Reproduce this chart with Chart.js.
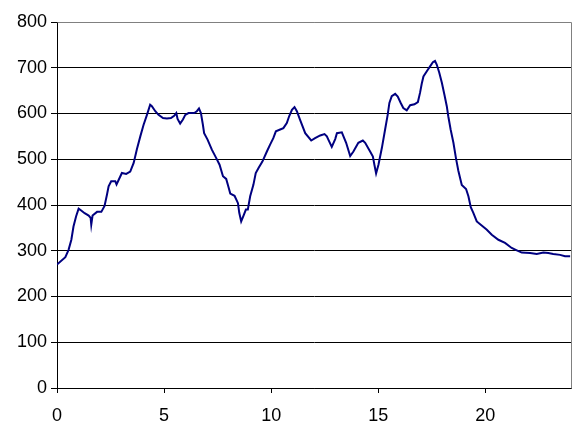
<!DOCTYPE html>
<html>
<head>
<meta charset="utf-8">
<script src="https://cdn.jsdelivr.net/npm/chart.js@4/dist/chart.umd.min.js"></script>
<style>
  html, body { margin: 0; padding: 0; background: #fff; }
  #wrap { width: 584px; height: 434px; }
</style>
</head>
<body>
<div id="wrap"><canvas id="chart"></canvas></div>
<script>
// hours (x) and values (y)
const hours = [
  0, 0.39, 0.54, 0.67, 0.77, 0.89, 1.01, 1.13, 1.29, 1.48, 1.57, 1.6, 1.66, 1.87, 2.07, 2.22, 2.33, 2.41, 2.53, 2.72,
  2.78, 3.03, 3.23, 3.42, 3.58, 3.73, 3.89, 4.04, 4.2, 4.35, 4.43, 4.59, 4.74, 4.95, 5.13, 5.32, 5.47, 5.57, 5.63, 5.75,
  5.88, 5.99, 6.14, 6.41, 6.53, 6.63, 6.72, 6.81, 6.87, 7.03, 7.23, 7.43, 7.59, 7.75, 7.9, 8.01, 8.09, 8.29, 8.45, 8.51,
  8.6, 8.71, 8.82, 8.91, 9.02, 9.17, 9.28, 9.41, 9.59, 9.8, 9.95, 10.1, 10.22, 10.42, 10.57, 10.73, 10.84, 10.97, 11.09, 11.2,
  11.35, 11.59, 11.87, 12.05, 12.29, 12.49, 12.6, 12.67, 12.83, 12.99, 13.07, 13.3, 13.5, 13.69, 13.84, 14.07, 14.28, 14.39, 14.62, 14.75,
  14.82, 14.9, 15.01, 15.17, 15.32, 15.44, 15.52, 15.63, 15.79, 15.91, 16.05, 16.17, 16.33, 16.49, 16.69, 16.85, 16.95, 17.03, 17.11, 17.29,
  17.42, 17.55, 17.65, 17.73, 17.85, 17.97, 18.09, 18.2, 18.27, 18.38, 18.51, 18.63, 18.74, 18.9, 19.1, 19.21, 19.32, 19.44, 19.6, 19.83,
  20.07, 20.3, 20.61, 20.92, 21.23, 21.47, 21.7, 22.09, 22.4, 22.71, 22.94, 23.17, 23.49, 23.72, 23.96
];
const values = [
  270, 286, 302, 324, 353, 375, 392, 388, 382, 377, 372, 357, 377, 385, 385, 398, 422, 441, 452, 452,
  445, 470, 468, 473, 492, 522, 550, 575, 597, 619, 616, 605, 597, 590, 589, 590, 595, 601, 588, 578,
  587, 597, 601, 601, 605, 611, 601, 576, 557, 543, 521, 503, 488, 463, 457, 439, 425, 420, 404, 383,
  364, 377, 390, 390, 419, 444, 470, 481, 495, 517, 532, 546, 561, 565, 568, 579, 594, 608, 614, 605,
  586, 557, 541, 546, 552, 555, 550, 543, 527, 544, 557, 559, 536, 507, 517, 536, 541, 536, 517, 506,
  488, 469, 488, 525, 565, 597, 623, 638, 643, 637, 623, 612, 607, 618, 620, 625, 645, 665, 681, 694,
  703, 712, 715, 707, 689, 667, 641, 616, 594, 565, 536, 502, 475, 444, 435, 419, 395, 383, 364, 355,
  346, 335, 324, 317, 306, 301, 296, 295, 293, 296, 295, 293, 291, 288, 288
];
const xTicks = [0, 5, 10, 15, 20];
const yTicks = [0, 100, 200, 300, 400, 500, 600, 700, 800];

const points = hours.map((h, i) => ({ x: h, y: values[i] }));

const plotBorder = {
  id: 'plotBorder',
  afterDraw(chart) {
    const { ctx, chartArea: a } = chart;
    ctx.save();
    ctx.strokeStyle = '#808080';
    ctx.lineWidth = 1;
    ctx.beginPath();
    ctx.moveTo(Math.round(a.left) + 0.5, Math.round(a.top) + 0.5);
    ctx.lineTo(Math.round(a.right) + 0.5, Math.round(a.top) + 0.5);
    ctx.lineTo(Math.round(a.right) + 0.5, Math.round(a.bottom) + 0.5);
    ctx.stroke();
    ctx.restore();
  }
};

new Chart(document.getElementById('chart'), {
  type: 'line',
  data: {
    datasets: [{
      data: points,
      borderColor: '#000080',
      borderWidth: 2,
      pointRadius: 0,
      tension: 0,
      fill: false
    }]
  },
  options: {
    responsive: true,
    maintainAspectRatio: false,
    animation: false,
    layout: { padding: { top: 22, right: 13, left: 0, bottom: 0 } },
    plugins: {
      legend: { display: false },
      tooltip: { enabled: false }
    },
    scales: {
      x: {
        type: 'linear',
        min: 0,
        max: 24,
        afterFit: s => { s.height = 46; },
        afterBuildTicks: s => { s.ticks = xTicks.map(v => ({ value: v })); },
        grid: { drawOnChartArea: false, drawTicks: true, tickLength: 5, tickColor: '#000' },
        border: { color: '#000', width: 1 },
        ticks: { color: '#000', padding: 12, maxRotation: 0, font: { family: 'Liberation Sans, Arial', size: 18 } }
      },
      y: {
        min: 0,
        max: 800,
        afterFit: s => { s.width = 57; },
        afterBuildTicks: s => { s.ticks = yTicks.map(v => ({ value: v })); },
        grid: {
          color: c => (c.tick && c.tick.value === 800 ? '#808080' : '#000'),
          tickColor: '#000',
          tickLength: 6
        },
        border: { color: '#000', width: 1 },
        ticks: { color: '#000', padding: 4, font: { family: 'Liberation Sans, Arial', size: 18 } }
      }
    }
  },
  plugins: [plotBorder]
});
</script>
</body>
</html>
